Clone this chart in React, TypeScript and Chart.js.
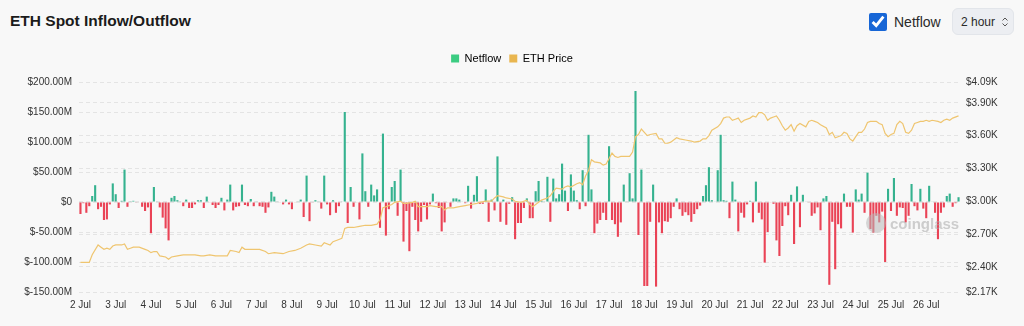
import React, { useEffect, useRef } from 'react';
import { Chart, registerables } from 'chart.js';

Chart.register(...registerables);

// ---- data ----
const days = [2, 3, 4, 5, 6, 7, 8, 9, 10, 11, 12, 13, 14, 15, 16, 17, 18, 19, 20, 21, 22, 23, 24, 25, 26];
const slotsPerDay = 12; // 2-hour buckets

// Netflow in $M, one value per 2-hour bucket, starting 2 Jul 00:00
const netflow = [
  -20, -2, -18, -7, 10, 28, -12, -8, -30, -29,
  -4, 31, 13, -10, 2, 54, -8, 0.5, 2, -1,
  0, -8, -15, -9, -52, 25, 1, -9, -26, -44,
  -64, 7, 10, 3, 1, -7, 4, -10, -10, -4,
  3, 3, -10, 9, -1, -5, -10, -5, 7, -14,
  4, 29, -14, -8, -7, 29, -5, -7, 5, -7,
  1, -7, -8, -18, -9, 17, 9, 1, -1, -4,
  4, -4, -12, -1, 1, 4, -25, 44, -32, -1,
  3, 1, -11, 44, -4, -22, 3, -18, -7, 1,
  150, -35, 25, -8, -1, -29, 81, 18, -8, 29,
  11, 21, -43, 114, -56, -12, 25, 35, -23, 54,
  -66, -15, -82, -8, -30, -49, -33, -5, -29, -4,
  14, -2, -10, -49, -34, -1, -8, 6, 6, 4,
  1, -2, 27, -11, 12, 43, -3, -3, 21, -33,
  4, -14, 76, -33, 4, -38, -3, 8, -62, -35,
  -35, -10, 6, -27, -27, 18, 35, 2, 1, 42,
  -33, 39, 6, 13, 64, 19, -15, 46, 19, 3,
  -12, 53, -7, 112, 21, -52, -36, -30, -18, -30,
  93, -30, -37, -58, -34, 29, 1, 48, 6, 185,
  -55, 54, -140, -140, -33, 29, -141, -34, -52, -32,
  -33, -27, -8, 6, -12, -23, -17, -22, -33, -20,
  -12, -6, 10, 28, 58, 3, 1, 53, 112, 3,
  2, -27, 34, 4, -49, -18, -26, -4, 2, -34,
  34, -18, -29, -101, -50, -1, -3, -64, -90, -40,
  -7, -22, 12, -70, 26, -42, 12, 1, -1, -23,
  -19, -9, -47, 6, 10, -138, -33, -112, -37, -44,
  14, -8, -8, -51, 21, 4, 14, -18, 49, -45,
  -51, -23, -34, -16, -100, 22, -15, 40, -23, -9,
  -10, -34, -23, 30, -7, -14, 22, -11, -27, 27,
  1, -18, -62, -18, -9, 10, 14, -8, -2, 8,
];

// ETH price readings: [2-hour bucket index, price in USD]
const priceReadings: [number, number][] = [
  [0, 2440], [3, 2440], [4, 2510], [6, 2600], [7, 2580], [8, 2560], [9, 2570], [10, 2560], [11, 2590], [12, 2600],
  [14, 2600], [15, 2610], [16, 2560], [17, 2570], [18, 2580], [20, 2580], [22, 2560], [23, 2550], [24, 2530], [25, 2540],
  [26, 2540], [27, 2500], [29, 2490], [30, 2470], [31, 2490], [33, 2500], [35, 2510], [37, 2510], [39, 2510], [41, 2500],
  [42, 2500], [44, 2510], [46, 2500], [48, 2500], [50, 2500], [51, 2550], [53, 2540], [54, 2530], [55, 2580], [56, 2560],
  [58, 2560], [61, 2560], [63, 2540], [64, 2520], [66, 2530], [69, 2520], [71, 2540], [73, 2550], [75, 2570], [77, 2600],
  [78, 2610], [80, 2600], [82, 2590], [83, 2620], [85, 2600], [86, 2630], [88, 2650], [89, 2660], [90, 2750], [91, 2760],
  [93, 2760], [95, 2770], [97, 2780], [99, 2780], [101, 2790], [102, 2830], [103, 2940], [104, 2950], [105, 2960], [106, 2970],
  [107, 2990], [109, 3000], [110, 2980], [111, 2980], [113, 2990], [114, 3000], [115, 2950], [118, 2950], [119, 2960], [121, 2950],
  [123, 2950], [124, 2920], [125, 2940], [127, 2940], [129, 2950], [131, 2960], [133, 2970], [135, 2980], [136, 2990], [138, 3000],
  [140, 3000], [141, 3030], [142, 3050], [144, 3040], [145, 3030], [147, 3020], [148, 3000], [150, 2990], [152, 3010], [153, 2970],
  [154, 2950], [156, 2990], [157, 3010], [159, 3030], [160, 3050], [161, 3090], [162, 3120], [164, 3110], [165, 3130], [166, 3140],
  [167, 3130], [169, 3160], [170, 3170], [171, 3150], [172, 3230], [173, 3280], [174, 3380], [175, 3360], [177, 3350], [178, 3330],
  [179, 3340], [180, 3390], [181, 3440], [182, 3410], [183, 3400], [184, 3410], [185, 3410], [187, 3410], [188, 3450], [189, 3590],
  [190, 3610], [191, 3660], [193, 3600], [194, 3610], [196, 3620], [197, 3570], [198, 3570], [199, 3530], [200, 3530], [201, 3540],
  [203, 3580], [204, 3570], [206, 3560], [208, 3550], [209, 3540], [211, 3550], [212, 3570], [213, 3570], [214, 3600], [215, 3650],
  [217, 3680], [218, 3710], [219, 3760], [220, 3770], [221, 3770], [222, 3740], [223, 3750], [224, 3760], [225, 3720], [226, 3740],
  [228, 3760], [229, 3780], [230, 3770], [231, 3810], [232, 3810], [233, 3790], [234, 3740], [235, 3760], [236, 3770], [237, 3780],
  [238, 3740], [239, 3690], [240, 3650], [241, 3670], [242, 3700], [243, 3640], [244, 3690], [245, 3710], [247, 3680], [248, 3730],
  [249, 3740], [250, 3730], [251, 3720], [252, 3700], [254, 3670], [255, 3610], [256, 3630], [257, 3580], [258, 3590], [259, 3600],
  [260, 3630], [261, 3620], [262, 3570], [263, 3550], [264, 3590], [265, 3630], [266, 3630], [267, 3660], [268, 3720], [269, 3730],
  [271, 3730], [272, 3710], [273, 3700], [274, 3620], [275, 3590], [276, 3610], [277, 3620], [278, 3700], [279, 3730], [280, 3710],
  [281, 3630], [282, 3620], [283, 3650], [284, 3710], [285, 3720], [286, 3730], [287, 3730], [288, 3740], [289, 3730], [290, 3740],
  [292, 3730], [293, 3720], [294, 3740], [295, 3750], [296, 3740], [297, 3760], [299, 3780],
];

const flowMin = -150;
const flowMax = 200;
const flowStep = 50;
const priceTicks = [2170, 2400, 2700, 3000, 3300, 3600, 3900, 4090];

const GREEN = '#35b28f';
const RED = '#ea4356';
const GOLD = '#efc56f';

const labels = days.flatMap((d) =>
  Array.from({ length: slotsPerDay }, (_, k) => `${d} Jul ${String(k * 2).padStart(2, '0')}:00`)
);

// adds blank space between the legend and the plot area
const legendSpacer = {
  id: 'legendSpacer',
  afterInit(chart: any) {
    const legend = chart.legend;
    if (!legend) return;
    const fit = legend.fit;
    legend.fit = function () {
      fit.call(this);
      this.height += 8;
    };
  },
};

export default function App() {
  const canvasRef = useRef<HTMLCanvasElement | null>(null);

  useEffect(() => {
    if (!canvasRef.current) return;
    const priceSeries: (number | null)[] = labels.map(() => null);
    priceReadings.forEach(([slot, usd]) => {
      priceSeries[slot] = usd;
    });

    const tickFont = { family: 'Arial, "Liberation Sans", sans-serif', size: 10 };

    const chart = new Chart(canvasRef.current, {
      type: 'bar',
      data: {
        labels,
        datasets: [
          {
            type: 'line',
            label: 'ETH Price',
            data: priceSeries,
            yAxisID: 'price',
            borderColor: GOLD,
            borderWidth: 1.2,
            pointRadius: 0,
            tension: 0,
            spanGaps: true,
            order: 0,
          } as any,
          {
            type: 'bar',
            label: 'Netflow',
            data: netflow,
            yAxisID: 'flow',
            backgroundColor: netflow.map((v) => (v >= 0 ? GREEN : RED)),
            barPercentage: 0.72,
            categoryPercentage: 1,
            order: 1,
          },
        ],
      },
      plugins: [legendSpacer],
      options: {
        animation: false,
        responsive: true,
        maintainAspectRatio: false,
        layout: { padding: { top: 5, left: 0, right: 0, bottom: 0 } },
        plugins: {
          tooltip: { enabled: false },
          legend: {
            position: 'top',
            align: 'center',
            labels: {
              boxWidth: 8,
              boxHeight: 8,
              padding: 8,
              color: '#444',
              font: { family: 'Arial, "Liberation Sans", sans-serif', size: 11 },
              generateLabels: () => [
                { text: 'Netflow', fillStyle: '#3ccc82', strokeStyle: '#3ccc82', lineWidth: 0, datasetIndex: 1, hidden: false },
                { text: 'ETH Price', fillStyle: '#e9b650', strokeStyle: '#e9b650', lineWidth: 0, datasetIndex: 0, hidden: false },
              ] as any,
            },
          },
        },
        scales: {
          x: {
            grid: { display: false, drawTicks: false },
            border: { display: false },
            ticks: {
              autoSkip: false,
              maxRotation: 0,
              padding: 7,
              color: '#333',
              font: tickFont,
              callback: (_v: any, index: number) =>
                index % slotsPerDay === 0 ? `${days[index / slotsPerDay]} Jul` : null,
            },
            afterFit: (scale: any) => {
              scale.height = 34;
            },
          },
          flow: {
            type: 'linear',
            position: 'left',
            min: flowMin,
            max: flowMax,
            ticks: {
              stepSize: flowStep,
              padding: 7,
              color: '#333',
              font: tickFont,
              callback: (v: any) => (Number(v) === 0 ? '$0' : `$${Number(v).toFixed(2)}M`),
            },
            grid: { color: '#e4e4e4', drawTicks: false, lineWidth: 1 },
            border: { display: false, dash: [4, 3] },
            afterFit: (scale: any) => {
              scale.width = 79;
            },
          },
          price: {
            type: 'linear',
            position: 'right',
            min: priceTicks[0],
            max: priceTicks[priceTicks.length - 1],
            afterBuildTicks: (scale: any) => {
              scale.ticks = priceTicks.map((v) => ({ value: v }));
            },
            ticks: {
              padding: 6,
              color: '#333',
              font: tickFont,
              callback: (v: any) => `$${(Number(v) / 1000).toFixed(2)}K`,
            },
            grid: { color: '#e4e4e4', drawTicks: false, lineWidth: 1 },
            border: { display: false, dash: [4, 3] },
            afterFit: (scale: any) => {
              scale.width = 64;
            },
          },
        },
      } as any,
    });
    return () => chart.destroy();
  }, []);

  return (
    <div
      style={{
        position: 'fixed',
        left: 0,
        top: 0,
        width: 1024,
        height: 326,
        background: '#f8f8f8',
        fontFamily: 'Arial, "Liberation Sans", sans-serif',
        overflow: 'hidden',
      }}
    >
      <div
        style={{
          position: 'absolute',
          left: 10,
          top: 11,
          fontSize: 15.5,
          fontWeight: 700,
          color: '#1b1b1b',
          lineHeight: '20px',
        }}
      >
        ETH Spot Inflow/Outflow
      </div>
      <div style={{ position: 'absolute', left: 869, top: 13, display: 'flex', alignItems: 'center' }}>
        <input
          type="checkbox"
          checked
          readOnly
          style={{ width: 18, height: 18, margin: 0, accentColor: '#1766d6' }}
        />
        <span style={{ marginLeft: 7, fontSize: 14, color: '#2a2a2a' }}>Netflow</span>
      </div>
      <div
        style={{
          position: 'absolute',
          left: 952,
          top: 8,
          width: 62,
          height: 27,
          boxSizing: 'border-box',
          borderRadius: 6,
          background: '#eceef2',
          border: '1px solid #e2e5ea',
          display: 'flex',
          alignItems: 'center',
          paddingLeft: 8,
          fontSize: 12,
          color: '#2a2a2a',
        }}
      >
        <span>2 hour</span>
        <svg width="8" height="12" viewBox="0 0 8 12" style={{ marginLeft: 6 }}>
          <path d="M1.5 4.5 L4 2 L6.5 4.5" fill="none" stroke="#555" strokeWidth="1" />
          <path d="M1.5 7.5 L4 10 L6.5 7.5" fill="none" stroke="#555" strokeWidth="1" />
        </svg>
      </div>
      <div style={{ position: 'absolute', left: 0, top: 40, width: 1024, height: 286 }}>
        <canvas ref={canvasRef} />
      </div>
      <div
        style={{
          position: 'absolute',
          left: 866,
          top: 213,
          display: 'flex',
          alignItems: 'center',
          opacity: 0.55,
          pointerEvents: 'none',
        }}
      >
        <div style={{ width: 20, height: 20, borderRadius: 10, background: '#b9b9b9' }} />
        <span style={{ marginLeft: 4, fontSize: 15, fontWeight: 600, color: '#a9a9a9' }}>coinglass</span>
      </div>
    </div>
  );
}
